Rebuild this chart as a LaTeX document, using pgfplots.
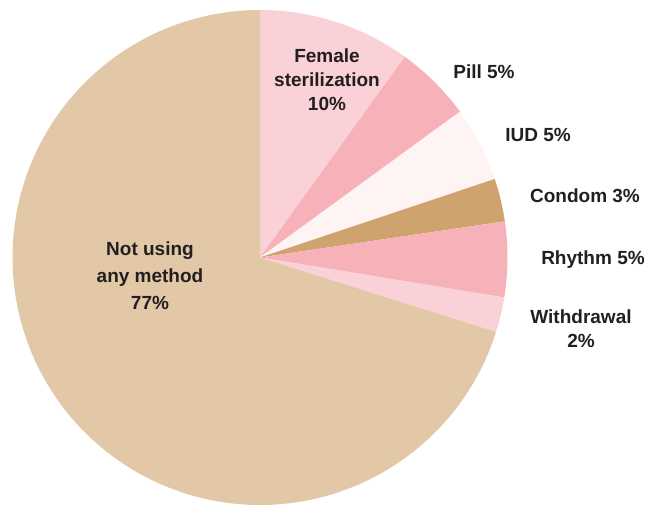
\documentclass[border=0pt]{standalone}
\usepackage{pgfplots}
\pgfplotsset{compat=1.18}
\usepackage{fontspec}
\setmainfont{Liberation Sans}
\definecolor{femster}{HTML}{F9D1D7}
\definecolor{pill}{HTML}{F7B2B9}
\definecolor{iud}{HTML}{FDF4F3}
\definecolor{condom}{HTML}{CFA36E}
\definecolor{rhythm}{HTML}{F7B2B9}
\definecolor{withdr}{HTML}{F9D1D7}
\definecolor{notusing}{HTML}{E2C8A6}
\definecolor{txt}{HTML}{231F20}
\tikzset{lab/.style={text=txt, align=center, font=\fontsize{19}{24}\selectfont\bfseries}}
\begin{document}
\begin{tikzpicture}
\begin{axis}[hide axis, scale only axis, width=658pt, height=505pt,
  xmin=0, xmax=658, ymin=0, ymax=505, clip=true]
% slice shares (percent of circle, as drawn): 9.9, 5.0, 4.9, 2.8, 4.9, 2.3, 70.2
% angles start at 90 deg, clockwise
\addplot[fill=femster, draw=none, domain=54.2:90, samples=40, variable=\t] ({260+247.5*cos(t)},{247.5+247.5*sin(t)}) -- (axis cs:260,247.5) -- cycle;
\addplot[fill=pill, draw=none, domain=36.1:54.2, samples=30, variable=\t] ({260+247.5*cos(t)},{247.5+247.5*sin(t)}) -- (axis cs:260,247.5) -- cycle;
\addplot[fill=iud, draw=none, domain=18.5:36.1, samples=30, variable=\t] ({260+247.5*cos(t)},{247.5+247.5*sin(t)}) -- (axis cs:260,247.5) -- cycle;
\addplot[fill=condom, draw=none, domain=8.4:18.5, samples=20, variable=\t] ({260+247.5*cos(t)},{247.5+247.5*sin(t)}) -- (axis cs:260,247.5) -- cycle;
\addplot[fill=rhythm, draw=none, domain=-9.3:8.4, samples=30, variable=\t] ({260+247.5*cos(t)},{247.5+247.5*sin(t)}) -- (axis cs:260,247.5) -- cycle;
\addplot[fill=withdr, draw=none, domain=-17.5:-9.3, samples=20, variable=\t] ({260+247.5*cos(t)},{247.5+247.5*sin(t)}) -- (axis cs:260,247.5) -- cycle;
\addplot[fill=notusing, draw=none, domain=-270:-17.5, samples=200, variable=\t] ({260+247.5*cos(t)},{247.5+247.5*sin(t)}) -- (axis cs:260,247.5) -- cycle;
\path (axis cs:0,0) rectangle (axis cs:658,505);
\node[lab] at (axis cs:327,425) {Female\\sterilization\\10\%};
\node[lab] at (axis cs:484,433) {Pill 5\%};
\node[lab] at (axis cs:538,370) {IUD 5\%};
\node[lab] at (axis cs:585,309) {Condom 3\%};
\node[lab] at (axis cs:593,245) {Rhythm 5\%};
\node[lab] at (axis cs:581,176) {Withdrawal\\2\%};
\node[lab, font=\fontsize{19}{27}\selectfont\bfseries] at (axis cs:150,229) {Not using\\any method\\77\%};
\end{axis}
\end{tikzpicture}
\end{document}
